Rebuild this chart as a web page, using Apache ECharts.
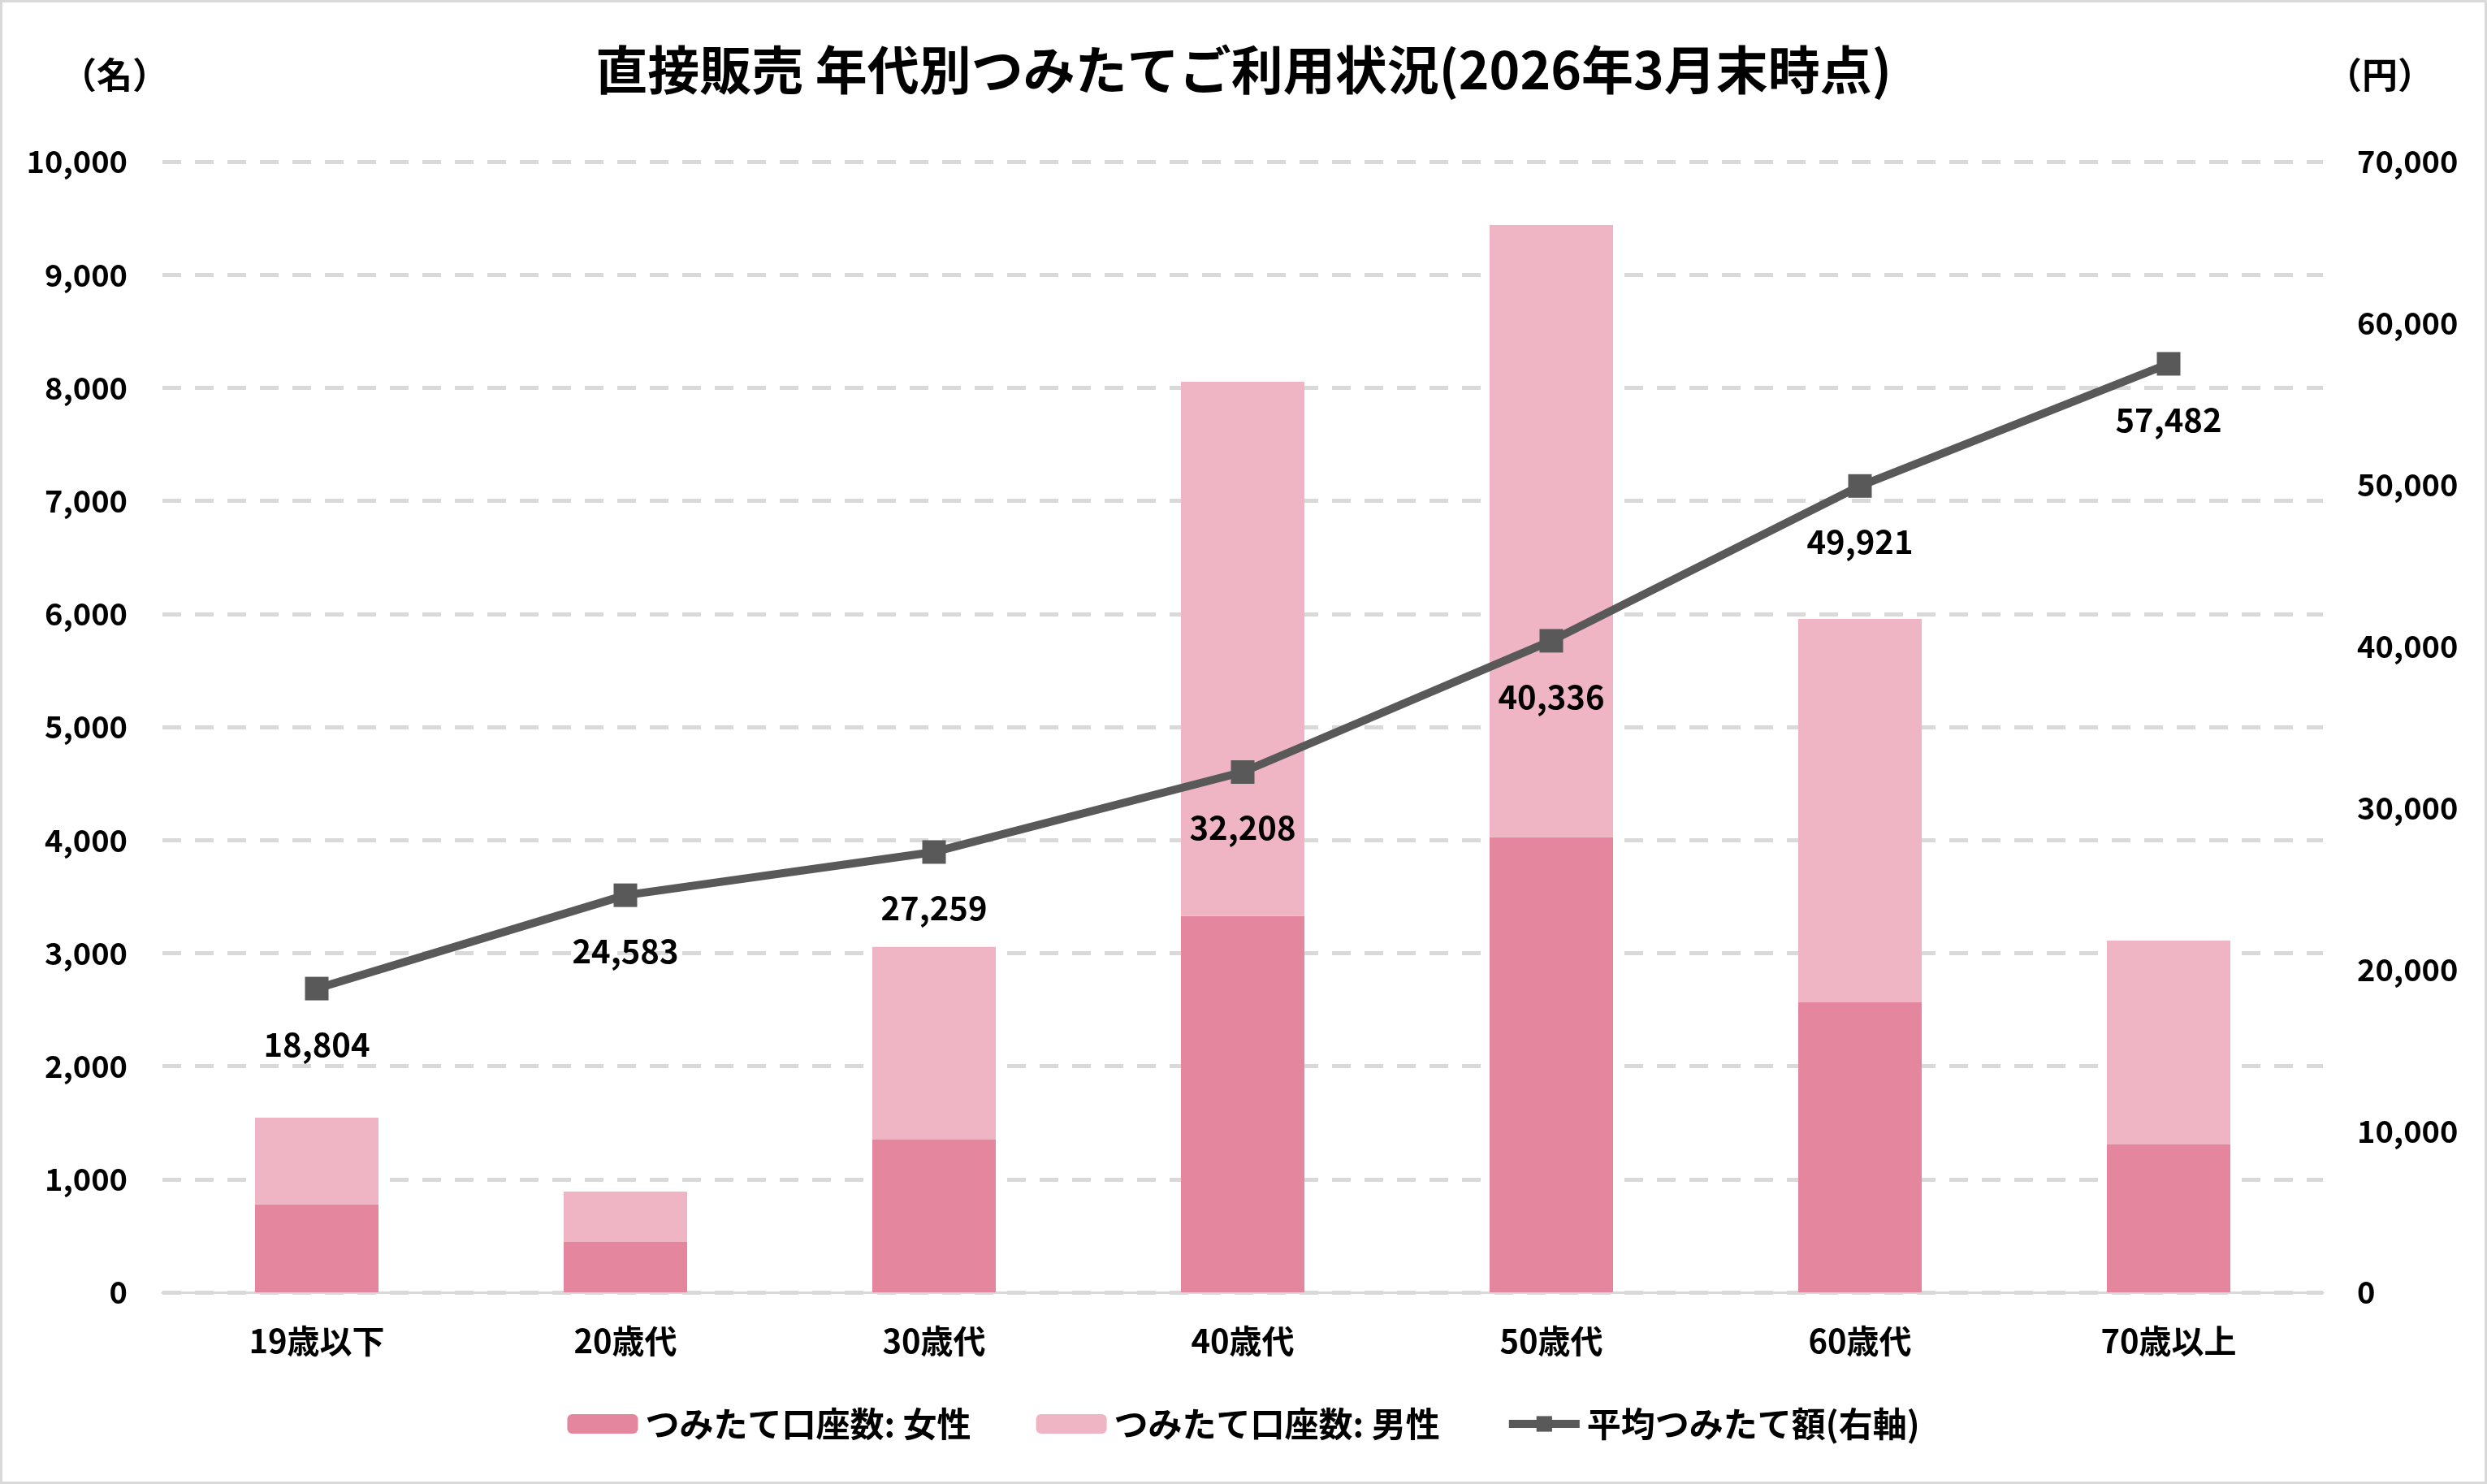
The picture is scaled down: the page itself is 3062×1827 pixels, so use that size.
<!DOCTYPE html>
<html>
<head>
<meta charset="utf-8">
<script src="https://cdn.jsdelivr.net/npm/echarts@6/dist/echarts.min.js"></script>
<style>
html,body{margin:0;padding:0;background:#fff;}
#main{width:3062px;height:1827px;}
</style>
</head>
<body>
<div id="main"></div>
<script>
const categories = ['19歳以下','20歳代','30歳代','40歳代','50歳代','60歳代','70歳以上'];
const femaleAccounts = [780, 445, 1351, 3328, 4026, 2565, 1307];
const maleAccounts = [765, 445, 1704, 4726, 5414, 3390, 1804];
const avgAmount = [18804, 24583, 27259, 32208, 40336, 49921, 57482];
const leftTicks = {min: 0, max: 10000, interval: 1000};
const rightTicks = {min: 0, max: 70000, interval: 10000};
const titleText = '直接販売 年代別つみたてご利用状況(2026年3月末時点)';
const seriesNames = ['つみたて口座数: 女性', 'つみたて口座数: 男性', '平均つみたて額(右軸)'];

const FONT = '"Noto Sans CJK JP", "Noto Sans", sans-serif';
const chart = echarts.init(document.getElementById('main'));
const fmt = v => Number(v).toLocaleString('en-US');

chart.setOption({
  animation: false,
  backgroundColor: '#ffffff',
  textStyle: {fontFamily: FONT},
  title: {
    text: titleText,
    left: 'center',
    top: 49,
    textStyle: {fontFamily: FONT, fontSize: 64, fontWeight: 'bold', color: '#000'}
  },
  graphic: [
    {type: 'rect', shape: {x: 1.5, y: 1.5, width: 3059, height: 1824}, style: {fill: null, stroke: '#d9d9d9', lineWidth: 3}, silent: true},
    {type: 'text', x: 141, y: 92, style: {text: '（名）', fontFamily: FONT, fontSize: 44, fontWeight: 'bold', fill: '#000', align: 'center', verticalAlign: 'middle'}},
    {type: 'text', x: 2930, y: 92, style: {text: '（円）', fontFamily: FONT, fontSize: 44, fontWeight: 'bold', fill: '#000', align: 'center', verticalAlign: 'middle'}}
  ],
  legend: {
    bottom: 48,
    left: 'center',
    itemWidth: 87,
    itemHeight: 24,
    itemGap: 80,
    textStyle: {fontFamily: FONT, fontSize: 42, fontWeight: 'bold', color: '#000', padding: [0,0,0,4]},
    data: [
      {name: seriesNames[0]},
      {name: seriesNames[1]},
      {name: seriesNames[2], lineStyle: {width: 10, color: '#595959'}, itemStyle: {color: '#595959'}}
    ]
  },
  grid: {left: 200, right: 202, top: 199, bottom: 236},
  xAxis: {
    type: 'category',
    data: categories,
    axisLine: {show: true, lineStyle: {color: '#d9d9d9', width: 3}},
    axisTick: {show: false},
    axisLabel: {fontFamily: FONT, fontSize: 40, fontWeight: 'bold', color: '#000', margin: 40}
  },
  yAxis: [
    {
      type: 'value',
      min: leftTicks.min, max: leftTicks.max, interval: leftTicks.interval,
      axisLine: {show: false},
      axisTick: {show: false},
      axisLabel: {fontFamily: FONT, fontSize: 38, fontWeight: 'bold', color: '#000', margin: 43, formatter: fmt},
      splitLine: {show: true, lineStyle: {color: '#d9d9d9', width: 5, type: [23, 17]}}
    },
    {
      type: 'value',
      min: rightTicks.min, max: rightTicks.max, interval: rightTicks.interval,
      axisLine: {show: false},
      axisTick: {show: false},
      axisLabel: {fontFamily: FONT, fontSize: 38, fontWeight: 'bold', color: '#000', margin: 42, formatter: fmt},
      splitLine: {show: false}
    }
  ],
  series: [
    {
      name: seriesNames[0], type: 'bar', stack: 'accounts', barWidth: '40%',
      itemStyle: {color: '#e4879e'},
      data: femaleAccounts
    },
    {
      name: seriesNames[1], type: 'bar', stack: 'accounts', barWidth: '40%',
      itemStyle: {color: '#efb5c4'},
      data: maleAccounts
    },
    {
      name: seriesNames[2], type: 'line', yAxisIndex: 1,
      symbol: 'rect', symbolSize: 29,
      lineStyle: {color: '#595959', width: 10},
      itemStyle: {color: '#595959'},
      label: {
        show: true, position: 'bottom', distance: 34,
        fontFamily: FONT, fontSize: 40, fontWeight: 'bold', color: '#000',
        formatter: p => fmt(p.value)
      },
      data: avgAmount,
      z: 5
    }
  ]
});
</script>
</body>
</html>
